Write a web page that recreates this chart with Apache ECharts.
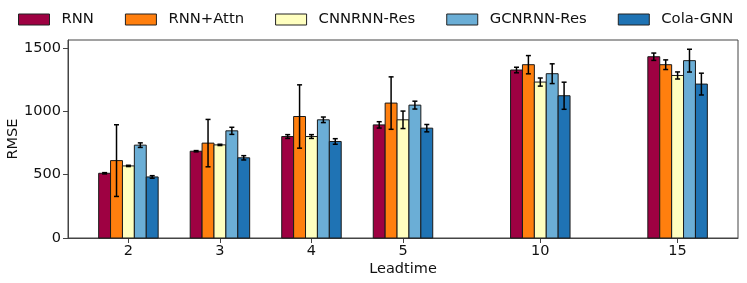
<!DOCTYPE html>
<html><head><meta charset="utf-8">
<script src="https://cdn.jsdelivr.net/npm/echarts@6/dist/echarts.min.js"></script>
<style>html,body{margin:0;padding:0;background:#fff}#c{width:747px;height:283px}</style>
</head><body><div id="c"></div>
<script>
const categories = ['2', '3', '4', '5', '10', '15'];
const positions = [0, 1, 2, 3, 4.5, 6];
const seriesNames = ['RNN', 'RNN+Attn', 'CNNRNN-Res', 'GCNRNN-Res', 'Cola-GNN'];
const colors = ['#9e0142', '#ff7f0e', '#ffffbf', '#6baed6', '#1f73b4'];
const rnn      = [511, 685, 801, 893, 1326, 1431];
const rnnErr   = [5, 5, 15, 25, 22, 29];
const attn     = [611, 749, 959, 1065, 1368, 1368];
const attnErr  = [283, 187, 250, 207, 72, 38];
const cnn      = [569, 735, 801, 933, 1231, 1283];
const cnnErr   = [5, 5, 15, 69, 32, 28];
const gcn      = [733, 846, 933, 1049, 1297, 1400];
const gcnErr   = [18, 28, 22, 31, 78, 90];
const cola     = [482, 633, 762, 867, 1123, 1215];
const colaErr  = [10, 17, 22, 29, 107, 86];
const values = [rnn, attn, cnn, gcn, cola];
const errors = [rnnErr, attnErr, cnnErr, gcnErr, colaErr];
const yTicks = [0, 500, 1000, 1500];
const barW = 0.13;

const font = 'DejaVu Sans';
const chart = echarts.init(document.getElementById('c'));

const series = seriesNames.map((name, si) => ({
  name,
  type: 'custom',
  itemStyle: { color: colors[si], borderColor: '#222', borderWidth: 1 },
  encode: { x: 0, y: 1 },
  data: positions.map((p, i) => [p + (si - 2) * barW, values[si][i], errors[si][i]]),
  renderItem: function (params, api) {
    const x = api.value(0), v = api.value(1), e = api.value(2);
    const p0 = api.coord([x - barW / 2, v]);
    const p1 = api.coord([x + barW / 2, 0]);
    const top = api.coord([x, v + e]);
    const bot = api.coord([x, v - e]);
    const cx = api.coord([x, v])[0];
    const cap = 2.5;
    return {
      type: 'group',
      children: [
        { type: 'rect', shape: { x: p0[0], y: p0[1], width: p1[0] - p0[0], height: p1[1] - p0[1] },
          style: { fill: colors[si], stroke: '#1a1a1a', lineWidth: 1 } },
        { type: 'line', shape: { x1: cx, y1: top[1], x2: cx, y2: bot[1] }, style: { stroke: '#000', lineWidth: 1.5 } },
        { type: 'line', shape: { x1: cx - cap, y1: top[1], x2: cx + cap, y2: top[1] }, style: { stroke: '#000', lineWidth: 1.5 } },
        { type: 'line', shape: { x1: cx - cap, y1: bot[1], x2: cx + cap, y2: bot[1] }, style: { stroke: '#000', lineWidth: 1.5 } }
      ]
    };
  }
}));

chart.setOption({
  animation: false,
  textStyle: { fontFamily: font },
  legend: {
    top: 12, left: 18, padding: 0,
    icon: 'rect', itemWidth: 31, itemHeight: 11, itemGap: 31,
    textStyle: { fontFamily: font, fontSize: 14.8, color: '#111', padding: [0, 0, 0, 7] },
    data: seriesNames.map((n, i) => ({ name: n, itemStyle: { color: colors[i], borderColor: '#222', borderWidth: 1 } }))
  },
  grid: { left: 68, right: 9, top: 40, bottom: 45, containLabel: false, outerBoundsMode: 'none',
    show: true, borderColor: '#444', borderWidth: 1, backgroundColor: 'transparent' },
  xAxis: {
    type: 'value', min: -0.66, max: 6.66,
    name: 'Leadtime', nameLocation: 'middle', nameGap: 24, nameMoveOverlap: false,
    nameTextStyle: { fontFamily: font, fontSize: 14.5, color: '#111' },
    splitLine: { show: false },
    axisLine: { show: true, onZero: false, lineStyle: { color: '#444' } },
    axisTick: { show: true, length: 5, lineStyle: { color: '#444' }, customValues: positions },
    axisLabel: { fontFamily: font, fontSize: 14.5, color: '#111', margin: 6, customValues: positions,
      formatter: v => { const i = positions.findIndex(p => Math.abs(p - v) < 1e-6); return i >= 0 ? categories[i] : ''; } }
  },
  yAxis: {
    type: 'value', min: 0, max: 1563,
    name: 'RMSE', nameLocation: 'middle', nameGap: 47, nameMoveOverlap: false,
    nameTextStyle: { fontFamily: font, fontSize: 14.5, color: '#111' },
    splitLine: { show: false },
    axisLine: { show: true, onZero: false, lineStyle: { color: '#444' } },
    axisTick: { show: true, length: 5, lineStyle: { color: '#444' }, customValues: yTicks },
    axisLabel: { fontFamily: font, fontSize: 14.5, color: '#111', margin: 7, customValues: yTicks,
      formatter: v => String(v) }
  },
  series
});
</script></body></html>
